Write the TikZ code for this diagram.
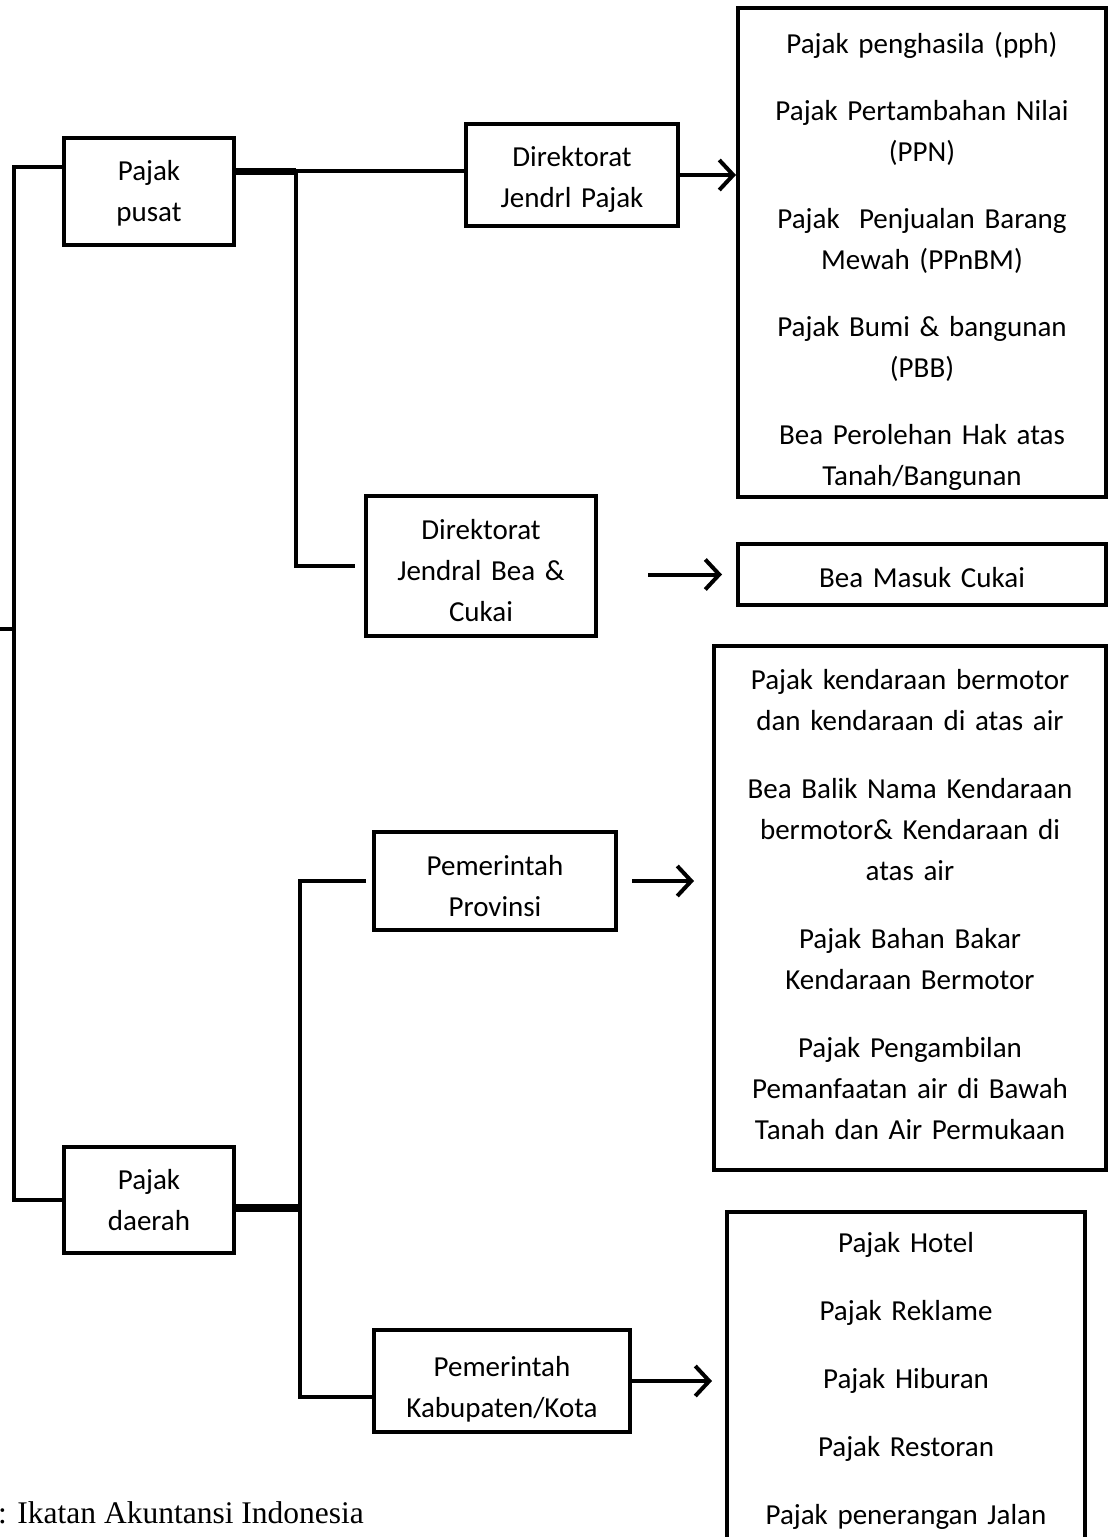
\documentclass[tikz,border=0pt]{standalone}
\usepackage{fontspec}
\setmainfont{Carlito}
\newfontfamily\capfont{Liberation Serif}
\usepackage{tikz}
\usetikzlibrary{positioning,arrows.meta}

\newcommand{\boxfont}{\fontsize{29}{41}\selectfont}

\begin{document}
\begin{tikzpicture}[
  x=1pt, y=-1pt,
  box/.style={draw, line width=4pt, align=center, inner sep=0pt, font=\boxfont},
  listbox/.style={box},
  conn/.style={line width=4pt},
  arr/.style={line width=4pt, -{Straight Barb[length=14pt,width=30pt]}}
]
  \clip (0,0) rectangle (1109,1537);

  % jenis pajak
  \node[box, minimum width=170pt, minimum height=107pt, text width=160pt, text height=24pt] (pusat) at (149,191.5) {Pajak\\pusat};
  \node[box, minimum width=170pt, minimum height=106pt, text width=160pt] (daerah) at (149,1200) {Pajak\\daerah};

  % lembaga pemungut
  \node[box, minimum width=212pt, minimum height=102pt, text width=200pt, text height=28pt] (djp) at (572,175) {Direktorat\\Jendrl Pajak};
  \node[box, minimum width=230pt, minimum height=140pt, text width=220pt, text height=30pt] (djbc) at (481,566) {Direktorat\\Jendral Bea \&\\Cukai};
  \node[box, minimum width=242pt, minimum height=98pt, text width=230pt, text height=31pt] (prov) at (495,881) {Pemerintah\\Provinsi};
  \node[box, minimum width=256pt, minimum height=102pt, text width=246pt, text height=36pt] (kab) at (502,1381) {Pemerintah\\Kabupaten/Kota};

  % daftar pajak
  \node[listbox, minimum width=368pt, minimum height=489pt, text width=350pt, text height=38pt] (pph) at (922,252.5)
    {Pajak penghasila (pph)\\[26pt]
     Pajak Pertambahan Nilai\\(PPN)\\[26pt]
     Pajak\ \ Penjualan Barang\\Mewah (PPnBM)\\[26pt]
     Pajak Bumi \& bangunan\\(PBB)\\[26pt]
     Bea Perolehan Hak atas\\Tanah/Bangunan};
  \node[listbox, minimum width=368pt, minimum height=61pt, text width=350pt, text height=26pt] (bmc) at (922,574.5) {Bea Masuk Cukai};
  \node[listbox, minimum width=392pt, minimum height=524pt, text width=380pt, text height=13pt] (pkb) at (910,908)
    {Pajak kendaraan bermotor\\dan kendaraan di atas air\\[27pt]
     Bea Balik Nama Kendaraan\\bermotor\& Kendaraan di\\atas air\\[27pt]
     Pajak Bahan Bakar\\Kendaraan Bermotor\\[27pt]
     Pajak Pengambilan\\Pemanfaatan air di Bawah\\Tanah dan Air Permukaan};
  \node[listbox, minimum width=358pt, minimum height=338pt, text width=340pt] (hotel) at (906,1381)
    {Pajak Hotel\\[27pt]
     Pajak Reklame\\[27pt]
     Pajak Hiburan\\[27pt]
     Pajak Restoran\\[27pt]
     Pajak penerangan Jalan};

  \node[anchor=base west, inner sep=0pt, font=\capfont\fontsize{31.5}{36}\selectfont] (sumber) at (-2,1523)
    {: Ikatan Akuntansi Indonesia};

  % titik bantu
  \coordinate (root) at (0,629);
  \coordinate (spineTop) at (14,167);
  \coordinate (spineBot) at (14,1200);
  \coordinate (pusatOut) at (296,171);
  \coordinate (daerahOut) at (300,1208);
  \coordinate (kabIn) at (300,1397);

  % garis
  \draw[conn] (pusat.west |- spineTop) -- (spineTop) -- (spineBot) -- (daerah.west);
  \draw[conn] (root) -- (root -| spineTop);

  \draw[conn, line width=7pt] (pusat.east |- pusatOut) -- (pusatOut);
  \draw[conn] (pusatOut) -- (djp.west |- pusatOut);
  \draw[conn, shorten >=9pt] (pusatOut) |- (djbc.west);

  \draw[conn, line width=8pt] (daerah.east |- daerahOut) -- (daerahOut);
  \draw[conn, shorten <=6pt] (prov.west) -| (kabIn) -- (kabIn -| kab.west);

  % panah
  \draw[arr] (djp.east) -- (djp.east -| pph.west);
  \draw[arr, shorten <=50pt, shorten >=14pt] (djbc.east |- bmc.west) -- (bmc.west);
  \draw[arr, shorten <=14pt, shorten >=18pt] (prov.east) -- (prov.east -| pkb.west);
  \draw[arr, shorten >=13pt] (kab.east) -- (kab.east -| hotel.west);
\end{tikzpicture}
\end{document}
